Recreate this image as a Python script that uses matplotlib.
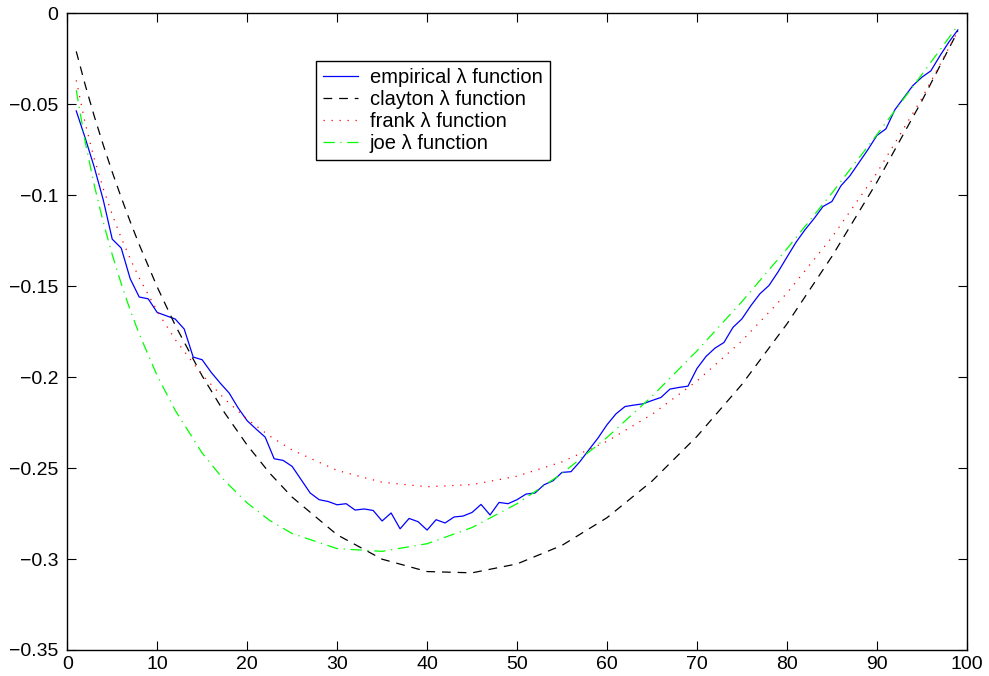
import matplotlib
matplotlib.use("Agg")
import matplotlib.pyplot as plt

# empirical lambda function at t = 1..99 (%)
emp_x = list(range(1, 100))
emp_y = [
    -0.0537, -0.0687, -0.0846, -0.1026, -0.1242, -0.1291, -0.1460, -0.1560, -0.1570, -0.1645,
    -0.1663, -0.1681, -0.1736, -0.1890, -0.1905, -0.1974, -0.2033, -0.2088, -0.2170, -0.2240,
    -0.2286, -0.2330, -0.2449, -0.2458, -0.2491, -0.2564, -0.2637, -0.2674, -0.2684, -0.2702,
    -0.2696, -0.2731, -0.2725, -0.2733, -0.2791, -0.2747, -0.2834, -0.2777, -0.2795, -0.2841,
    -0.2784, -0.2802, -0.2769, -0.2764, -0.2744, -0.2700, -0.2758, -0.2689, -0.2696, -0.2674,
    -0.2643, -0.2637, -0.2592, -0.2570, -0.2524, -0.2520, -0.2464, -0.2399, -0.2335, -0.2262,
    -0.2202, -0.2162, -0.2154, -0.2147, -0.2129, -0.2112, -0.2066, -0.2057, -0.2050, -0.1953,
    -0.1887, -0.1841, -0.1810, -0.1727, -0.1680, -0.1607, -0.1542, -0.1497, -0.1423, -0.1341,
    -0.1260, -0.1191, -0.1130, -0.1063, -0.1035, -0.0949, -0.0894, -0.0822, -0.0750, -0.0672,
    -0.0636, -0.0531, -0.0464, -0.0398, -0.0352, -0.0317, -0.0235, -0.0159, -0.0092,
]

# fitted curves, read at a coarser grid
fit_x = [1, 2, 3, 4, 5, 6, 7, 8, 10, 12, 15, 17.5, 20, 22.5, 25, 30, 35, 40, 45, 50,
         55, 60, 65, 70, 75, 80, 85, 90, 95, 99]
clayton_y = [-0.0210, -0.0395, -0.0566, -0.0724, -0.0873, -0.1013, -0.1146, -0.1272,
             -0.1505, -0.1715, -0.1994, -0.2197, -0.2374, -0.2528, -0.2660, -0.2867,
             -0.3001, -0.3069, -0.3076, -0.3027, -0.2925, -0.2773, -0.2572, -0.2326,
             -0.2040, -0.1708, -0.1337, -0.0929, -0.0482, -0.0099]
frank_y = [-0.0369, -0.0607, -0.0800, -0.0964, -0.1107, -0.1235, -0.1350, -0.1455,
           -0.1638, -0.1794, -0.1988, -0.2121, -0.2231, -0.2324, -0.2401, -0.2513,
           -0.2578, -0.2603, -0.2591, -0.2545, -0.2466, -0.2353, -0.2205, -0.2022,
           -0.1801, -0.1539, -0.1232, -0.0878, -0.0468, -0.0099]
joe_y = [-0.0423, -0.0709, -0.0945, -0.1148, -0.1327, -0.1487, -0.1633, -0.1763,
         -0.1993, -0.2183, -0.2418, -0.2570, -0.2692, -0.2788, -0.2860, -0.2943,
         -0.2958, -0.2916, -0.2827, -0.2696, -0.2530, -0.2332, -0.2106, -0.1856,
         -0.1585, -0.1295, -0.0989, -0.0668, -0.0337, -0.0068]

labels = ["empirical \u03bb function", "clayton \u03bb function",
          "frank \u03bb function", "joe \u03bb function"]

xticks = [0, 10, 20, 30, 40, 50, 60, 70, 80, 90, 100]
yticks = [-0.35, -0.3, -0.25, -0.2, -0.15, -0.1, -0.05, 0]
ytick_labels = ["\u22120.35", "\u22120.3", "\u22120.25", "\u22120.2", "\u22120.15",
                "\u22120.1", "\u22120.05", "0"]

plt.rcParams['font.family'] = ['Liberation Sans', 'DejaVu Sans']
plt.rcParams['font.size'] = 14

fig = plt.figure(figsize=(9.89, 6.76), dpi=100)
ax = fig.add_axes([0.068, 0.0385, 0.9096, 0.942])

lw = 0.9
ax.plot(emp_x, emp_y, color=(0, 0, 1), lw=lw, label=labels[0])
ax.plot(fit_x, clayton_y, color='black', lw=lw, linestyle=(0, (7, 5.5)), label=labels[1])
ax.plot(fit_x, frank_y, color='red', lw=lw, linestyle=(0, (1, 5.4)), label=labels[2])
ax.plot(fit_x, joe_y, color=(0, 1, 0), lw=lw, linestyle=(0, (9, 4.5, 1, 4.5)), label=labels[3])

ax.set_xlim(0, 100)
ax.set_ylim(-0.35, 0)
ax.set_xticks(xticks)
ax.set_xticklabels([str(v) for v in xticks])
ax.set_yticks(yticks)
ax.set_yticklabels(ytick_labels)
ax.tick_params(direction='in', length=6.5, width=0.8, top=True, right=True)
ax.tick_params(axis='y', pad=6.5)
ax.tick_params(axis='x', pad=4)
for s in ax.spines.values():
    s.set_linewidth(1.0)

leg = ax.legend(loc='upper left', bbox_to_anchor=(0.277, 0.925), fancybox=False,
                framealpha=1, edgecolor='black', borderpad=0.35, labelspacing=0.15,
                handlelength=1.7, handletextpad=0.6, borderaxespad=0,
                prop={'size': 14.5})
leg.get_frame().set_linewidth(1.0)

fig.savefig("out.png", dpi=100)
